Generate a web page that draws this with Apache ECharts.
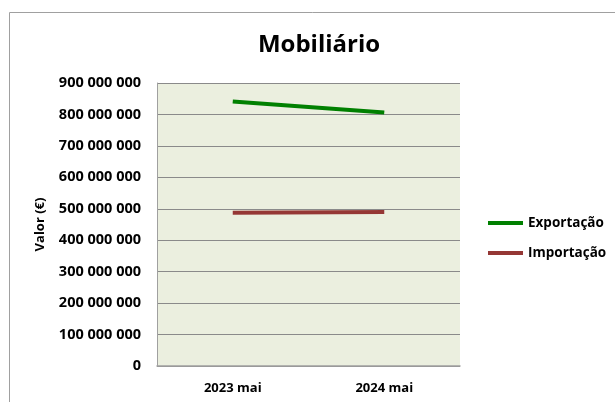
<!DOCTYPE html>
<html><head><meta charset="utf-8">
<script src="https://cdn.jsdelivr.net/npm/echarts@6/dist/echarts.min.js"></script>
<style>html,body{margin:0;padding:0;background:#fff}#c{width:615px;height:402px}</style>
</head><body><div id="c"></div>
<script>
var categories = ['2023 mai', '2024 mai'];
var exportacao = [841000000, 806000000];
var importacao = [487000000, 490000000];
var yTicks = [0, 100000000, 200000000, 300000000, 400000000, 500000000, 600000000, 700000000, 800000000, 900000000];

function fmt(v) {
  return String(Math.round(v)).replace(/\B(?=(\d{3})+(?!\d))/g, ' ');
}
var FONT = '"Open Sans", "DejaVu Sans", sans-serif';
var chart = echarts.init(document.getElementById('c'), null, {renderer: 'canvas'});
chart.setOption({
  animation: false,
  backgroundColor: '#ffffff',
  graphic: [{
    type: 'rect', shape: {x: 9.5, y: 12.5, width: 700, height: 500},
    style: {fill: 'none', stroke: '#a0a0a0', lineWidth: 1}, silent: true, z: -1
  }],
  title: {
    text: 'Mobiliário', left: 314, top: 28, textAlign: 'center',
    textStyle: {fontFamily: FONT, fontWeight: 'bold', fontSize: 24, color: '#000'}
  },
  legend: {
    orient: 'vertical', left: 483, top: 210, itemGap: 14,
    itemWidth: 35, itemHeight: 4, icon: 'rect',
    textStyle: {fontFamily: FONT, fontWeight: 'bold', fontSize: 13.5, color: '#000', lineHeight: 16},
    data: ['Exportação', 'Importação']
  },
  grid: {left: 157, right: 155, top: 83, bottom: 36, containLabel: false,
    show: true, backgroundColor: '#EBEFDF', borderWidth: 0},
  xAxis: {
    type: 'category', data: categories, boundaryGap: true,
    axisLine: {show: true, lineStyle: {color: '#a0a0a0', width: 1.5}},
    axisTick: {show: false},
    axisLabel: {fontFamily: FONT, fontWeight: 'bold', fontSize: 13, color: '#000', margin: 16}
  },
  yAxis: {
    type: 'value', min: 0, max: 900000000, interval: 100000000,
    name: 'Valor (€)', nameLocation: 'middle', nameGap: 110, nameRotate: 90,
    nameTextStyle: {fontFamily: FONT, fontWeight: 'bold', fontSize: 13, color: '#000'},
    axisLine: {show: true, lineStyle: {color: '#a0a0a0', width: 1}},
    axisTick: {show: false},
    splitLine: {show: true, lineStyle: {color: '#8a8a8a', width: 1}},
    axisLabel: {fontFamily: FONT, fontWeight: 'bold', fontSize: 14.5, color: '#000', margin: 16,
      formatter: function (v) { return fmt(v); }}
  },
  series: [
    {name: 'Exportação', type: 'line', data: exportacao, symbol: 'none',
      color: '#008000', lineStyle: {color: '#008000', width: 4}},
    {name: 'Importação', type: 'line', data: importacao, symbol: 'none',
      color: '#953735', lineStyle: {color: '#953735', width: 4}}
  ]
});
</script></body></html>
